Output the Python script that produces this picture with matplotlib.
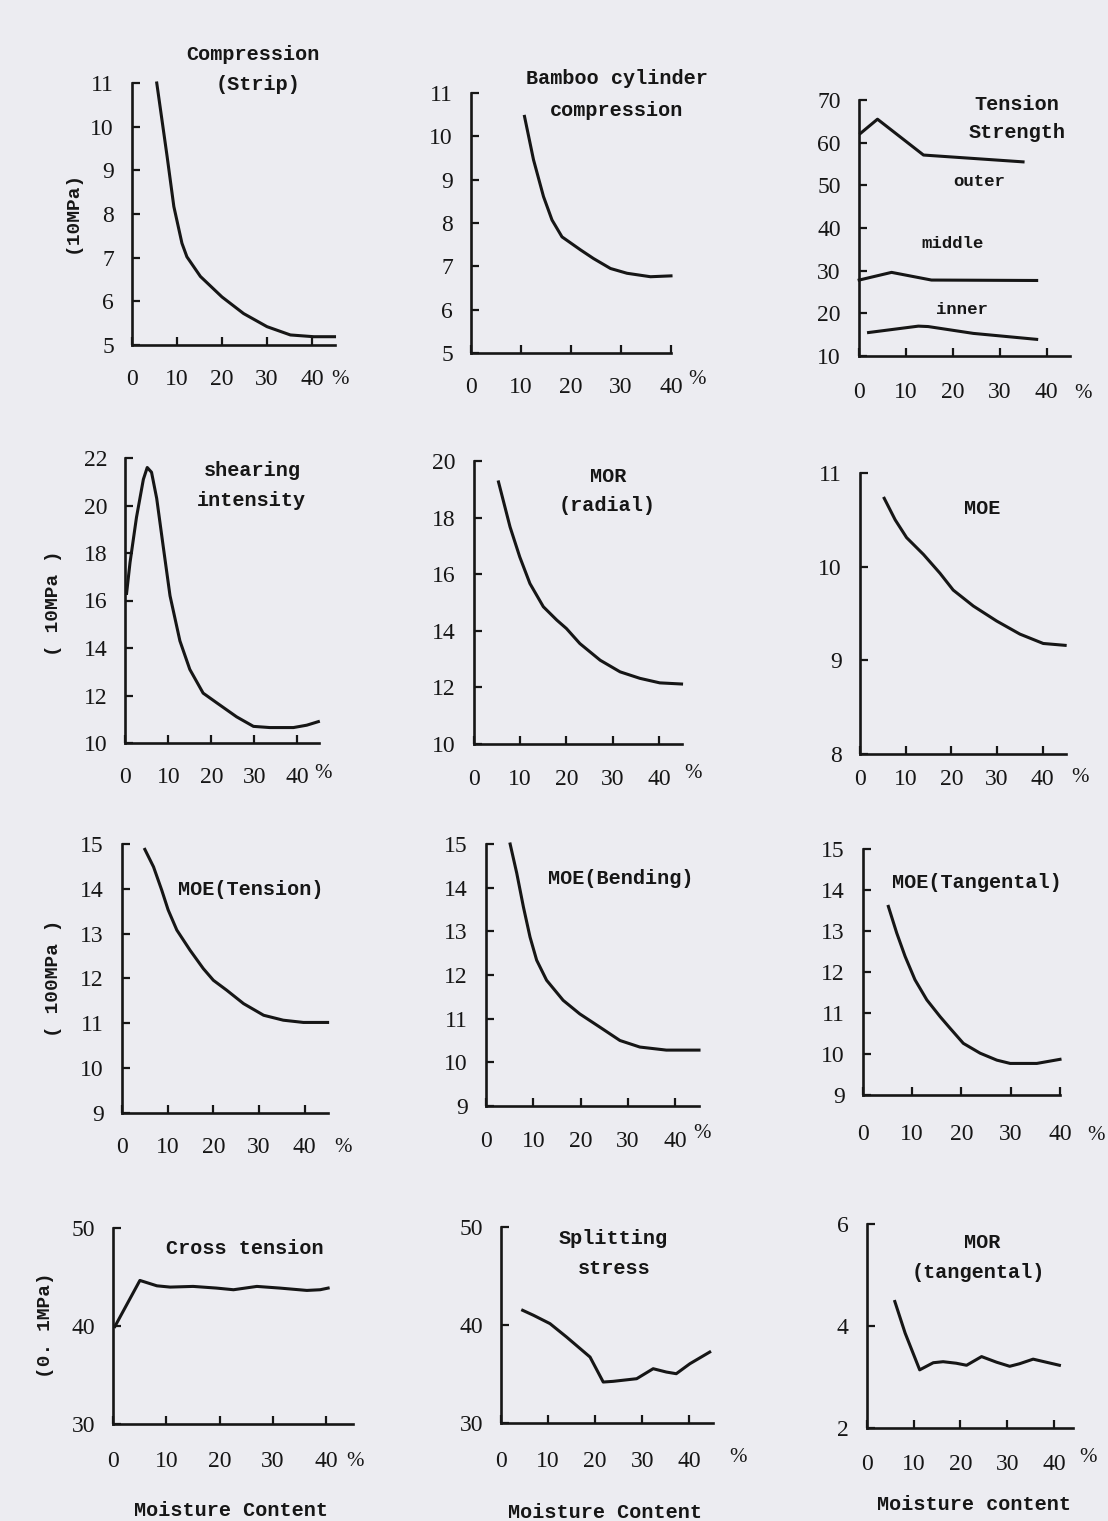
import matplotlib.pyplot as plt

W, H = 1108, 1521
BG = "#ECECF1"
INK = "#161616"

plt.rcParams["font.family"] = "Liberation Serif"

# ------------------------------------------------------------
# values (moisture content % vs strength)
# ------------------------------------------------------------
comp_strip_x = [5.5, 7.8, 9.3, 11.1, 12.2, 15.2, 20.0, 24.8, 30.0, 35.2, 40.4, 45.0]
comp_strip_y = [11.0, 9.32, 8.17, 7.33, 7.02, 6.57, 6.10, 5.72, 5.42, 5.23, 5.19, 5.19]

cyl_comp_x = [10.7, 12.5, 14.5, 16.2, 18.2, 21.9, 24.5, 27.9, 31.2, 35.9, 40.0]
cyl_comp_y = [10.46, 9.46, 8.61, 8.07, 7.68, 7.38, 7.18, 6.95, 6.84, 6.76, 6.78]

outer_x = [0.4, 4.0, 13.8, 24.4, 35.0]
outer_y = [62.2, 65.5, 57.1, 56.3, 55.5]
middle_x = [0.1, 7.0, 15.5, 37.9]
middle_y = [27.8, 29.6, 27.8, 27.7]
inner_x = [2.1, 12.7, 14.8, 24.4, 37.9]
inner_y = [15.5, 17.0, 16.9, 15.3, 13.9]

shear_x = [0.3, 1.1, 2.6, 4.2, 5.1, 6.1, 7.3, 8.8, 10.4, 12.7, 15.0, 18.1,
           21.2, 25.9, 29.8, 33.6, 39.1, 42.2, 44.9]
shear_y = [16.3, 17.6, 19.5, 21.1, 21.6, 21.4, 20.3, 18.3, 16.2, 14.3, 13.1, 12.1,
           11.7, 11.1, 10.7, 10.65, 10.65, 10.75, 10.9]

mor_rad_x = [5.3, 7.8, 9.9, 12.1, 15.0, 17.9, 20.0, 22.9, 27.3, 31.6, 35.9, 40.2, 44.9]
mor_rad_y = [19.26, 17.67, 16.61, 15.67, 14.85, 14.38, 14.08, 13.55, 12.96, 12.55,
             12.32, 12.16, 12.12]

moe_x = [5.3, 7.7, 10.2, 13.9, 17.5, 20.4, 24.8, 29.9, 35.0, 40.1, 44.9]
moe_y = [10.73, 10.5, 10.31, 10.13, 9.93, 9.75, 9.58, 9.42, 9.28, 9.18, 9.16]

moe_ten_x = [5.0, 6.9, 8.7, 10.1, 12.0, 14.9, 17.8, 20.0, 22.9, 26.6, 31.0, 35.3, 39.7, 45.0]
moe_ten_y = [14.88, 14.49, 13.97, 13.53, 13.08, 12.63, 12.22, 11.96, 11.74, 11.44,
             11.18, 11.07, 11.02, 11.02]

moe_bend_x = [5.1, 6.5, 7.9, 9.3, 10.7, 12.8, 16.3, 19.8, 24.0, 28.3, 32.5, 38.1, 45.0]
moe_bend_y = [15.0, 14.33, 13.56, 12.87, 12.34, 11.88, 11.42, 11.11, 10.81, 10.5,
              10.35, 10.28, 10.28]

moe_tan_x = [5.2, 6.9, 8.6, 10.6, 13.0, 15.7, 17.7, 20.4, 23.8, 27.2, 29.9, 35.3, 40.0]
moe_tan_y = [13.6, 12.95, 12.38, 11.81, 11.32, 10.91, 10.63, 10.26, 10.02, 9.85,
             9.77, 9.77, 9.87]

cross_x = [0.3, 5.0, 8.2, 10.7, 15.0, 19.4, 22.6, 27.0, 31.3, 36.4, 38.9, 40.4]
cross_y = [39.95, 44.65, 44.1, 43.97, 44.04, 43.87, 43.7, 44.04, 43.87, 43.63, 43.7, 43.87]

split_x = [4.6, 6.9, 10.4, 13.9, 18.9, 21.7, 23.8, 28.8, 32.3, 35.1, 37.2, 40.1, 44.3]
split_y = [41.5, 40.99, 40.14, 38.78, 36.73, 34.18, 34.25, 34.52, 35.54, 35.2,
           35.03, 36.05, 37.24]

mor_tan_x = [6.0, 8.2, 11.3, 14.2, 16.3, 19.1, 21.3, 24.5, 27.7, 30.5, 32.6, 35.5, 38.3, 41.1]
mor_tan_y = [4.48, 3.86, 3.14, 3.28, 3.3, 3.27, 3.23, 3.4, 3.29, 3.21, 3.26, 3.35, 3.29, 3.23]

x_ticks = [0, 10, 20, 30, 40]
y_ticks = [
    [5, 6, 7, 8, 9, 10, 11],
    [5, 6, 7, 8, 9, 10, 11],
    [10, 20, 30, 40, 50, 60, 70],
    [10, 12, 14, 16, 18, 20, 22],
    [10, 12, 14, 16, 18, 20],
    [8, 9, 10, 11],
    [9, 10, 11, 12, 13, 14, 15],
    [9, 10, 11, 12, 13, 14, 15],
    [9, 10, 11, 12, 13, 14, 15],
    [30, 40, 50],
    [30, 40, 50],
    [2, 4, 6],
]
x_max = [45, 40, 45, 45, 45, 45, 45, 45, 40, 45, 45, 44]

series = [
    [(comp_strip_x, comp_strip_y)],
    [(cyl_comp_x, cyl_comp_y)],
    [(outer_x, outer_y), (middle_x, middle_y), (inner_x, inner_y)],
    [(shear_x, shear_y)],
    [(mor_rad_x, mor_rad_y)],
    [(moe_x, moe_y)],
    [(moe_ten_x, moe_ten_y)],
    [(moe_bend_x, moe_bend_y)],
    [(moe_tan_x, moe_tan_y)],
    [(cross_x, cross_y)],
    [(split_x, split_y)],
    [(mor_tan_x, mor_tan_y)],
]

# ------------------------------------------------------------
# layout in pixels of the original scan: left, top, right, bottom
# ------------------------------------------------------------
rects = [
    (132, 83, 334.5, 345), (471, 93, 671, 353), (858.7, 100, 1070, 356),
    (125.3, 458, 318.8, 743), (474, 461, 682, 744), (860, 473, 1065.6, 754),
    (122, 844, 327.6, 1113), (486, 844, 699, 1106), (862.7, 849, 1060, 1095),
    (113.3, 1228, 352.6, 1424), (501, 1227, 713, 1423), (866.7, 1224, 1073, 1428),
]
label_off = [35, 35, 37, 35, 36, 26, 35, 36, 40, 38, 39, 37]
pct_pos = [(340, 380), (697, 380), (1083, 393), (323, 773), (693, 773), (1080, 777),
           (343, 1148), (702, 1133), (1096, 1135), (355, 1462), (738, 1458), (1088, 1457)]

titles = [
    ("Compression", 253, 55), ("(Strip)", 258, 85),
    ("Bamboo cylinder", 617, 78), ("compression", 617, 110),
    ("Tension", 1017, 105), ("Strength", 1017, 133),
    ("outer", 979, 182), ("middle", 953, 243), ("inner", 962, 309),
    ("shearing", 252, 470), ("intensity", 251, 500),
    ("MOR", 608, 477), ("(radial)", 607, 505),
    ("MOE", 982, 508),
    ("MOE(Tension)", 251, 890),
    ("MOE(Bending)", 621, 878),
    ("MOE(Tangental)", 977, 882),
    ("Cross tension", 245, 1248),
    ("Splitting", 613, 1239), ("stress", 614, 1268),
    ("MOR", 982, 1242), ("(tangental)", 978, 1272),
    ("Moisture Content", 231, 1510),
    ("Moisture Content", 605, 1512),
    ("Moisture content", 974, 1505),
]
unit_labels = [("(10MPa)", 72, 212), ("( 10MPa )", 53, 603),
               ("( 100MPa )", 53, 978), ("(0. 1MPa)", 45, 1325)]

fig = plt.figure(figsize=(W / 100, H / 100), dpi=100, facecolor=BG)


def fpos(x, y):
    return x / W, 1 - y / H


for i, rect in enumerate(rects):
    l, t, r, b = rect
    ax = fig.add_axes([l / W, 1 - b / H, (r - l) / W, (b - t) / H])
    ax.set_facecolor("none")
    ax.set_xlim(0, x_max[i])
    ax.set_ylim(y_ticks[i][0], y_ticks[i][-1])
    ax.set_xticks(x_ticks)
    ax.set_yticks(y_ticks[i])
    for s in ("top", "right"):
        ax.spines[s].set_visible(False)
    for s in ("left", "bottom"):
        ax.spines[s].set_linewidth(1.9)
        ax.spines[s].set_color(INK)
    ax.tick_params(direction="in", length=6, width=1.6, colors=INK, labelsize=17)
    ax.tick_params(axis="x", pad=(label_off[i] - 11) / 1.389)
    ax.tick_params(axis="y", pad=13)
    for xs, ys in series[i]:
        ax.plot(xs, ys, color=INK, lw=2.2, clip_on=False, solid_joinstyle="round")
    fig.text(*fpos(*pct_pos[i]), "%", ha="center", va="center", fontsize=15, color=INK)

for s, x, y in titles:
    size = 12.5 if s in ("outer", "middle", "inner") else 14.5
    fig.text(*fpos(x, y), s, ha="center", va="center", fontsize=size,
             family="Liberation Mono", weight="bold", color=INK)

for s, x, y in unit_labels:
    fig.text(*fpos(x, y), s, ha="center", va="center", rotation=90, fontsize=14,
             family="Liberation Mono", weight="bold", color=INK)

fig.savefig("out.png", dpi=100, facecolor=BG)
